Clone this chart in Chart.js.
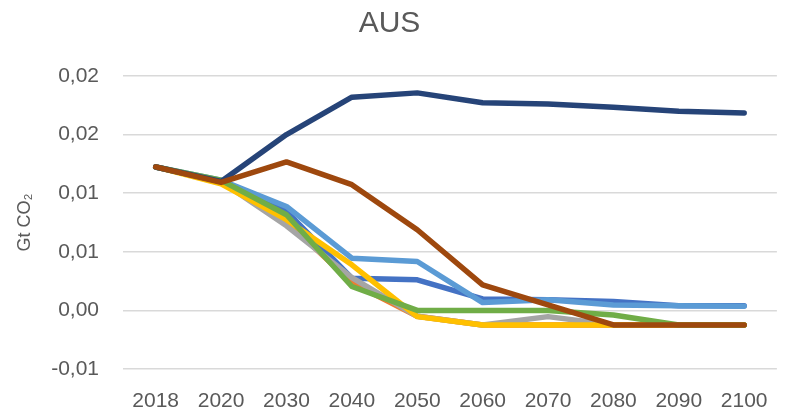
<!DOCTYPE html>
<html>
<head>
<meta charset="utf-8">
<title>AUS</title>
<script src="https://cdn.jsdelivr.net/npm/chart.js@4"></script>
<style>
    html, body { margin: 0; padding: 0; background: #ffffff; }
    canvas { display: block; }
</style>
</head>
<body>
<canvas id="chart" width="788" height="417"></canvas>
<script>
// Categories on the x axis
const years = ['2018', '2020', '2030', '2040', '2050', '2060', '2070', '2080', '2090', '2100'];

// Tick labels as Excel printed them (two decimals, comma separator), bottom to top
const yTickLabels = ['-0,01', '0,00', '0,01', '0,01', '0,02', '0,02'];

// Series values, Gt CO2
const series1 = [0.01224, 0.0110, 0.00845, 0.00275, 0.00261, 0.00098, 0.00090, 0.00075, 0.00040, 0.00040];
const series2 = [0.01224, 0.0110, 0.00760, 0.00235, -0.00050, -0.00124, -0.00124, -0.00124, -0.00124, -0.00124];
const series3 = [0.01224, 0.0110, 0.00722, 0.00280, -0.00050, -0.00124, -0.00053, -0.00124, -0.00124, -0.00124];
const series4 = [0.01224, 0.0108, 0.00774, 0.00389, -0.00053, -0.00124, -0.00124, -0.00124, -0.00124, -0.00124];
const series5 = [0.01224, 0.0111, 0.00887, 0.00446, 0.00417, 0.00067, 0.00090, 0.00047, 0.00040, 0.00035];
const series6 = [0.01224, 0.0111, 0.00816, 0.00204, 0.00000, 0.00000, 0.00000, -0.00040, -0.00124, -0.00124];
const series7 = [0.01224, 0.0110, 0.01500, 0.01819, 0.01856, 0.01771, 0.01762, 0.01733, 0.01699, 0.01685];
const series8 = [0.01224, 0.01092, 0.01267, 0.01073, 0.00688, 0.00218, 0.00047, -0.00124, -0.00124, -0.00124];

const seriesNames = ['Series 1', 'Series 2', 'Series 3', 'Series 4', 'Series 5', 'Series 6', 'Series 7', 'Series 8'];
const seriesColors = ['#4472C4', '#ED7D31', '#A5A5A5', '#FFC000', '#5B9BD5', '#70AD47', '#264478', '#9E480E'];

document.addEventListener("DOMContentLoaded", function () {

    const textColor = '#595959';
    const fontFamily = "'Liberation Sans', Arial, sans-serif";
    const allSeries = [series1, series2, series3, series4, series5, series6, series7, series8];

    // Excel paints later series over earlier ones; in Chart.js the lowest order ends on top
    const datasets = allSeries.map((values, i) => ({
        label: seriesNames[i],
        data: values,
        borderColor: seriesColors[i],
        backgroundColor: seriesColors[i],
        borderWidth: 5.5,
        borderCapStyle: 'round',
        borderJoinStyle: 'round',
        pointRadius: 0,
        pointHoverRadius: 0,
        tension: 0,
        fill: false,
        order: allSeries.length - 1 - i
    }));

    new Chart(document.getElementById("chart").getContext("2d"), {
        type: 'line',
        data: { labels: years, datasets: datasets },
        options: {
            responsive: false,
            animation: false,
            layout: { padding: { left: 0, right: 9, top: 0, bottom: 0 } },
            plugins: {
                legend: { display: false },
                tooltip: { enabled: false },
                title: {
                    display: true,
                    text: 'AUS',
                    color: textColor,
                    font: { family: fontFamily, size: 30, weight: 'normal' },
                    padding: { top: 6, bottom: 34 }
                }
            },
            scales: {
                x: {
                    type: 'category',
                    offset: true,
                    grid: { display: false, drawTicks: false },
                    border: { display: false },
                    ticks: {
                        color: textColor,
                        font: { family: fontFamily, size: 21 },
                        padding: 20,
                        maxRotation: 0,
                        autoSkip: false
                    },
                    afterFit: function (scale) { scale.height = 48; }
                },
                y: {
                    min: -0.005,
                    max: 0.02,
                    grid: { color: '#D9D9D9', lineWidth: 1.5, drawTicks: false },
                    border: { display: false },
                    ticks: {
                        stepSize: 0.005,
                        color: textColor,
                        font: { family: fontFamily, size: 21 },
                        padding: 24,
                        callback: (value, index) => yTickLabels[index]
                    },
                    title: {
                        display: true,
                        text: 'Gt CO₂',
                        color: textColor,
                        font: { family: fontFamily, size: 18 },
                        padding: { top: 14, bottom: 0 }
                    },
                    afterFit: function (scale) { scale.width = 123; }
                }
            }
        }
    });
});
</script>
</body>
</html>
